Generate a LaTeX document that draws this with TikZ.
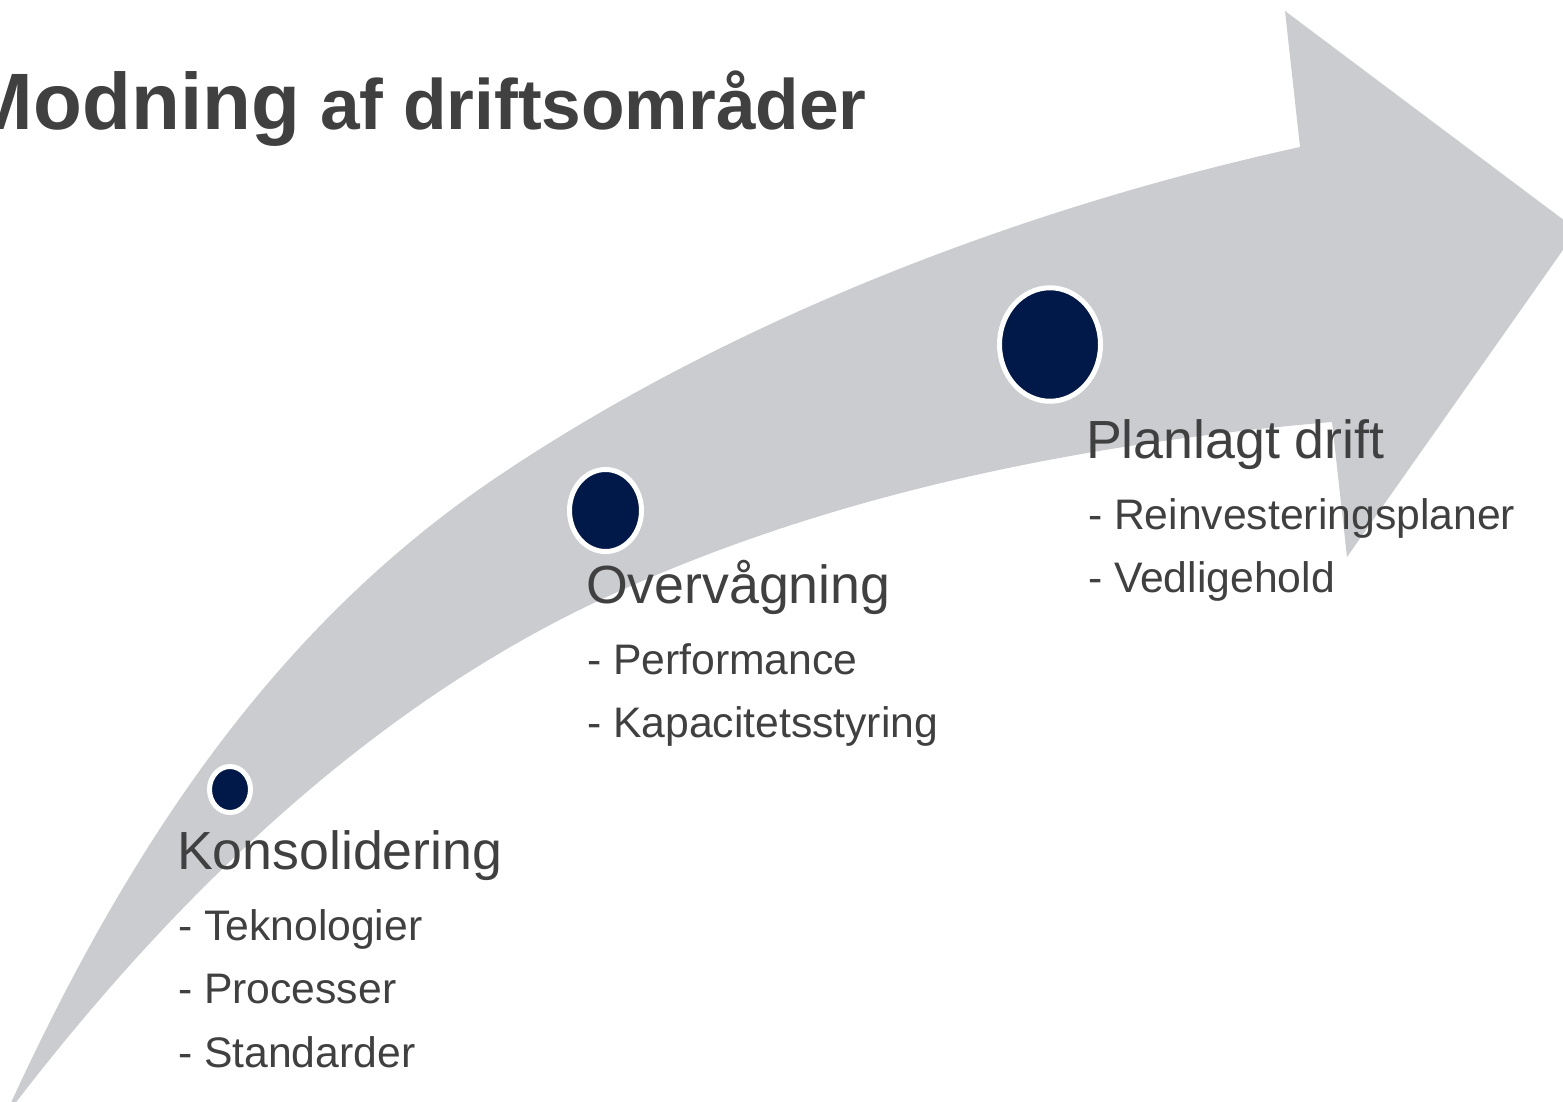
\documentclass[tikz,border=0pt]{standalone}
\usepackage{fontspec}
\setmainfont{Liberation Sans}
\usetikzlibrary{shapes.geometric}
\definecolor{arrowgray}{RGB}{203,204,208}
\definecolor{navy}{RGB}{0,25,72}
\definecolor{txtgray}{RGB}{64,64,64}
\tikzset{
  dot/.style={ellipse, fill=navy, draw=white, line width=5pt, inner sep=0pt, outer sep=0pt},
  headlbl/.style={anchor=base west, inner sep=0pt, outer sep=0pt, text=txtgray, font=\fontsize{53.7}{60}\selectfont},
  itemlbl/.style={anchor=base west, inner sep=0pt, outer sep=0pt, text=txtgray, font=\fontsize{42.7}{50}\selectfont},
  titlelbl/.style={anchor=base west, inner sep=0pt, outer sep=0pt, text=txtgray, font=\fontsize{80}{90}\selectfont\bfseries}
}
\begin{document}
\begin{tikzpicture}[x=1pt, y=-1pt]
\clip (0,0) rectangle (1563,1101);
\fill[white] (0,0) rectangle (1563,1101);
% big curved arrow
\coordinate (tail) at (4,1118);
\coordinate (um) at (500,475);
\coordinate (ui) at (1300,147);
\coordinate (htop) at (1285,11);
\coordinate (htip) at (1577,230);
\coordinate (hbot) at (1347,557);
\coordinate (li) at (1332,422);
\coordinate (lm) at (600,600);
\fill[arrowgray] (tail)
  .. controls (128,845) and (276,625) .. (um)
  .. controls (728,322) and (1017,209) .. (ui)
  -- (htop) -- (htip) -- (hbot) -- (li)
  .. controls (1083,443) and (826.5,494) .. (lm)
  .. controls (362,711.5) and (163,908) .. (tail)
  -- cycle;
% milestones
\node[dot, minimum width=41pt, minimum height=46pt] (c1) at (230,789.5) {};
\node[dot, minimum width=72pt, minimum height=82pt] (c2) at (605.5,510.5) {};
\node[dot, minimum width=101pt, minimum height=113.5pt] (c3) at (1050,344.5) {};
% title
\node[titlelbl] (title) at (-33,129) {Modning{\fontsize{71.3}{80}\selectfont\ af driftsområder}};
% labels
\node[headlbl] (k0) at (177,869) {Konsolidering};
\node[itemlbl] (k1) at (178,940) {- Teknologier};
\node[itemlbl] (k2) at (178,1003) {- Processer};
\node[itemlbl] (k3) at (178,1067) {- Standarder};
\node[headlbl] (o0) at (586,603) {Overvågning};
\node[itemlbl] (o1) at (587,674) {- Performance};
\node[itemlbl] (o2) at (587,737) {- Kapacitetsstyring};
\node[headlbl] (p0) at (1086,458) {Planlagt drift};
\node[itemlbl] (p1) at (1088,529) {- Reinvesteringsplaner};
\node[itemlbl] (p2) at (1088,592) {- Vedligehold};
\end{tikzpicture}
\end{document}
